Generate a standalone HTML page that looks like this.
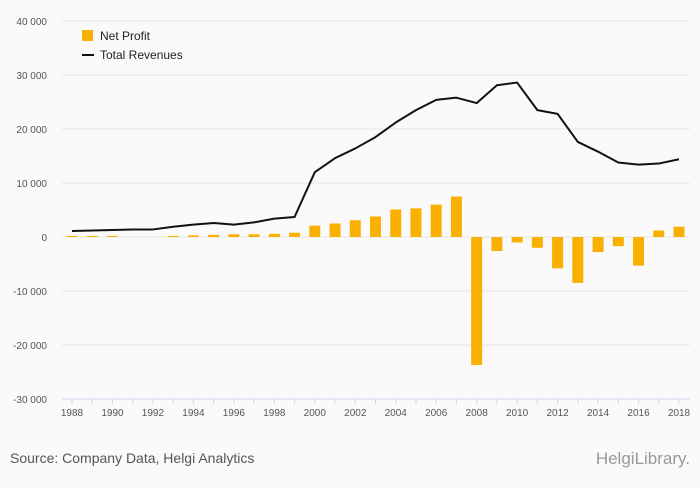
<!DOCTYPE html>
<html><head><meta charset="utf-8"><style>
body{margin:0;background:#fafafa;font-family:"Liberation Sans",sans-serif;}
svg text{font-family:"Liberation Sans",sans-serif;}
</style></head><body>
<svg id="chart" width="700" height="483">
<rect width="700" height="483" fill="#fafafa"/>
<g id="grid"></g><g id="bars"></g><g id="line"></g><g id="axes"></g>
<g>
<rect x="82" y="30" width="11" height="11" fill="#f9b000"/>
<text x="100" y="40" font-size="12" fill="#222">Net Profit</text>
<line x1="82" y1="55" x2="94" y2="55" stroke="#111" stroke-width="2"/>
<text x="100" y="59" font-size="12" fill="#222">Total Revenues</text>
</g>
<text x="10" y="463" font-size="14" fill="#555">Source: Company Data, Helgi Analytics</text>
<text x="690" y="464" font-size="17" fill="#999" text-anchor="end">HelgiLibrary.</text>
</svg>
<script>
const years=[1988,1989,1990,1991,1992,1993,1994,1995,1996,1997,1998,1999,2000,2001,2002,2003,2004,2005,2006,2007,2008,2009,2010,2011,2012,2013,2014,2015,2016,2017,2018];
const revenues=[1100,1200,1300,1400,1400,1900,2300,2600,2300,2700,3400,3700,12000,14600,16400,18500,21200,23500,25400,25800,24800,28100,28600,23500,22800,17600,15800,13800,13400,13600,14400];
const profit=[200,200,200,0,0,200,300,400,500,500,600,800,2100,2500,3100,3800,5100,5300,6000,7500,-23700,-2600,-1000,-2000,-5800,-8500,-2800,-1700,-5300,1200,1900];
const yTicks=[40000,30000,20000,10000,0,-10000,-20000,-30000];
const tickLabels=["40 000","30 000","20 000","10 000","0","-10 000","-20 000","-30 000"];
const NS="http://www.w3.org/2000/svg";
const y=v=>237-v*54/10000;
const x=i=>72+i*(679-72)/30;
function mk(t,a,p){const e=document.createElementNS(NS,t);for(const k in a)e.setAttribute(k,a[k]);p.appendChild(e);return e;}
const grid=document.getElementById('grid'),bars=document.getElementById('bars'),line=document.getElementById('line'),axes=document.getElementById('axes');
yTicks.forEach((v,i)=>{
 const g=mk('line',{x1:62,x2:690,y1:y(v),y2:y(v),stroke:v===-30000?'#ccd6eb':'#e6e6e6','stroke-width':1},grid);
 
 
 const t=mk('text',{x:47,y:y(v)+4,'font-size':10,fill:'#555','text-anchor':'end'},axes);
 t.textContent=tickLabels[i];
 
 
});
profit.forEach((v,i)=>{
 const r=mk('rect',{x:x(i)-5.5,y:Math.min(y(v),y(0)),width:11,height:Math.max(Math.abs(y(v)-y(0)),v?1:0),fill:'#f9b000'},bars);
 
 
});
const p=mk('polyline',{points:revenues.map((v,i)=>x(i)+','+y(v)).join(' '),fill:'none',stroke:'#111','stroke-width':2,'stroke-linejoin':'round'},line);


years.forEach((yr,i)=>{
 const tk=mk('line',{x1:x(i),x2:x(i),y1:399,y2:404,stroke:'#ccd6eb'},axes);
 
 
 if(i%2===0){const t=mk('text',{x:x(i),y:416,'font-size':10,fill:'#555','text-anchor':'middle'},axes);
 t.textContent=yr;
 
 }
});
</script>
</body></html>
